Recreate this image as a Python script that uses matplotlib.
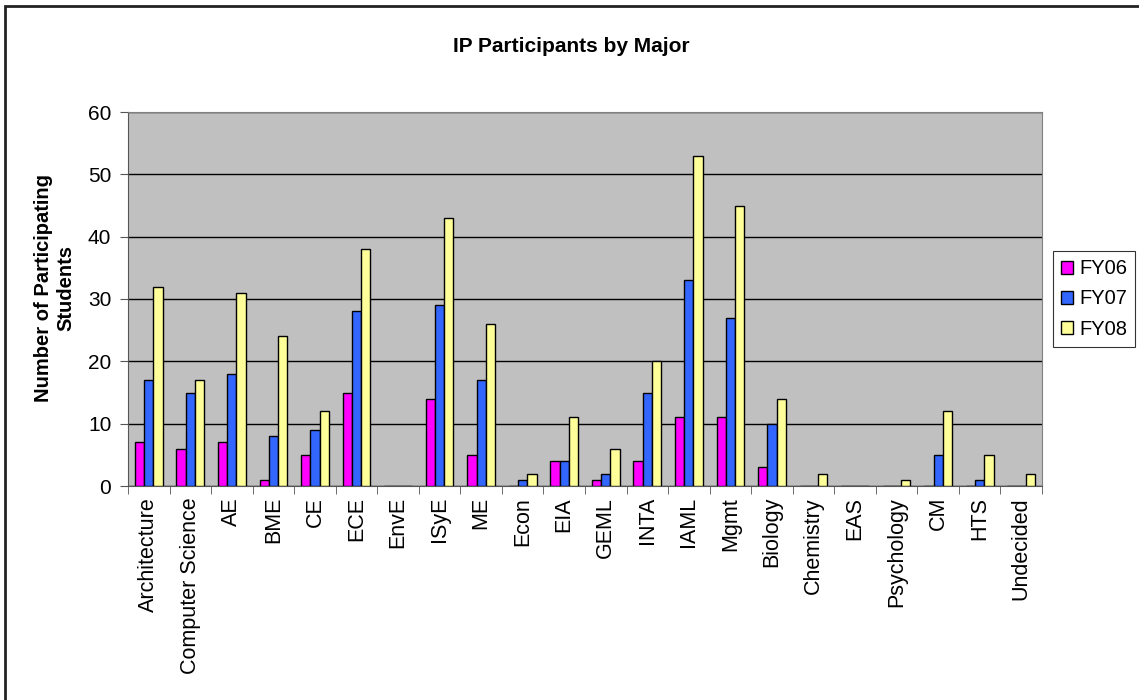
import numpy as np
import matplotlib.pyplot as plt
from matplotlib.patches import Rectangle

plt.rcParams['font.family'] = ['Liberation Sans', 'DejaVu Sans']

majors = ["Architecture", "Computer Science", "AE", "BME", "CE", "ECE", "EnvE",
          "ISyE", "ME", "Econ", "EIA", "GEML", "INTA", "IAML", "Mgmt", "Biology",
          "Chemistry", "EAS", "Psychology", "CM", "HTS", "Undecided"]
fy06 = [7, 6, 7, 1, 5, 15, 0, 14, 5, 0, 4, 1, 4, 11, 11, 3, 0, 0, 0, 0, 0, 0]
fy07 = [17, 15, 18, 8, 9, 28, 0, 29, 17, 1, 4, 2, 15, 33, 27, 10, 0, 0, 0, 5, 1, 0]
fy08 = [32, 17, 31, 24, 12, 38, 0, 43, 26, 2, 11, 6, 20, 53, 45, 14, 2, 0, 1, 12, 5, 2]
series = ["FY06", "FY07", "FY08"]
colors = ["#FF00FF", "#3366FF", "#FFFF99"]

fig = plt.figure(figsize=(11.39, 7.0), dpi=100)
# chart frame, open past the right and bottom edges
fig.patches.append(Rectangle((5 / 1139, -0.05), 1.2, 1 - 6 / 700 + 0.05,
                             transform=fig.transFigure, fill=False,
                             edgecolor="#222222", linewidth=2))
ax = fig.add_axes([128 / 1139, 214 / 700, 914 / 1139, 374 / 700])
ax.set_facecolor("#C0C0C0")

x = np.arange(len(majors))
w = 1 / 4.5
for i, (vals, name, c) in enumerate(zip([fy06, fy07, fy08], series, colors)):
    ax.bar(x + (i - 1) * w, vals, w, color=c, edgecolor="black", linewidth=1,
           label=name, zorder=3)

ax.set_xlim(-0.5, len(majors) - 0.5)
ax.set_ylim(0, 60)
ax.set_yticks(range(0, 61, 10))
ax.yaxis.grid(True, color="black", linewidth=1, zorder=1)
ax.set_xticks(x)
ax.set_xticklabels(majors, rotation=90, fontsize=15.5)
ax.set_xticks(np.arange(-0.5, len(majors)), minor=True)
ax.tick_params(axis="x", which="major", length=0, pad=8)
ax.tick_params(axis="x", which="minor", length=6, color="#555555")
ax.tick_params(axis="y", labelsize=15, length=6, color="#555555", pad=6)
for side in ["left", "bottom"]:
    ax.spines[side].set_color("#555555")
for side in ["top", "right"]:
    ax.spines[side].set_color("#808080")

ax.set_ylabel("Number of Participating\nStudents", fontsize=14.5,
              fontweight="bold")
ax.yaxis.set_label_coords(-0.058, 0.53)
fig.text(571 / 1139, 1 - 46 / 700, "IP Participants by Major", ha="center",
         va="center", fontsize=15, fontweight="bold")

leg = ax.legend(loc="center left", bbox_to_anchor=(1.012, 0.5), fontsize=14.5,
                frameon=True, fancybox=False, edgecolor="black",
                handlelength=0.6, handleheight=0.6, handletextpad=0.3,
                labelspacing=0.55, borderpad=0.4, borderaxespad=0)
leg.get_frame().set_linewidth(0.8)

fig.savefig("out.png", dpi=100, facecolor="white")
